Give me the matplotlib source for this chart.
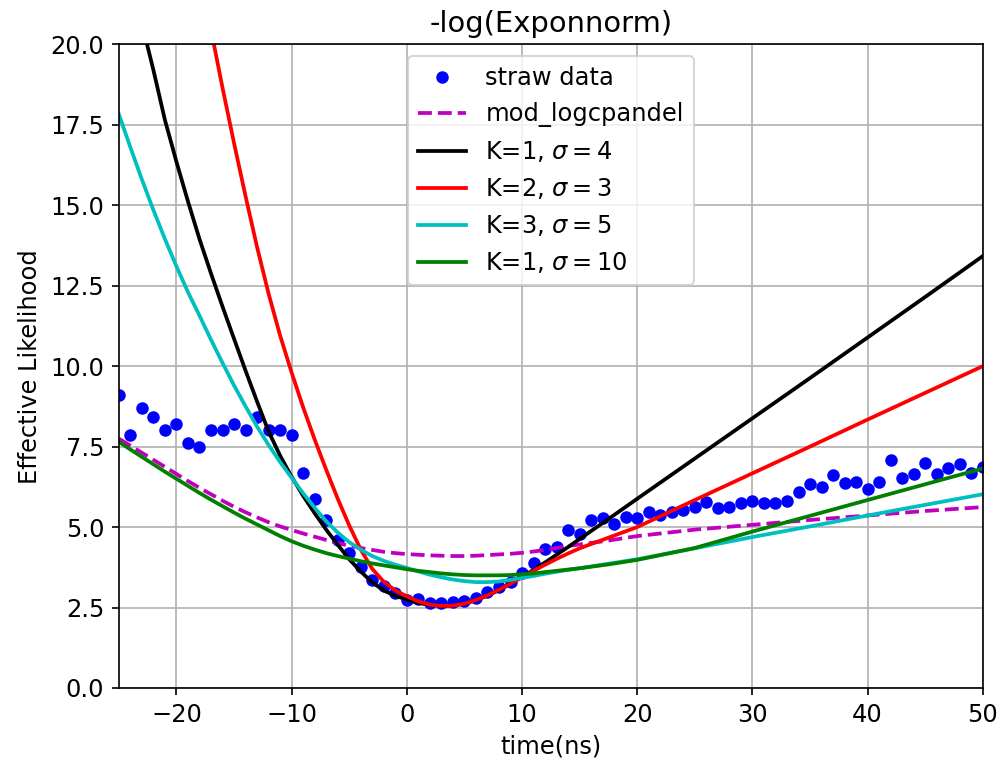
import numpy as np
import matplotlib
matplotlib.use('Agg')
import matplotlib.pyplot as plt

plt.rcParams['font.size'] = 11.6

# straw data, one point per ns
t_data = np.arange(-25, 51)
y_data = [9.10, 7.86, 8.69, 8.41, 8.01, 8.20, 7.60, 7.49, 8.01, 8.01,
          8.20, 8.01, 8.43, 8.01, 8.01, 7.86, 6.67, 5.86, 5.22, 4.60,
          4.20, 3.75, 3.35, 3.17, 2.96, 2.74, 2.75, 2.65, 2.63, 2.68,
          2.71, 2.79, 2.99, 3.15, 3.30, 3.58, 3.89, 4.33, 4.39, 4.91,
          4.78, 5.22, 5.27, 5.09, 5.32, 5.27, 5.48, 5.39, 5.48, 5.53,
          5.63, 5.77, 5.58, 5.61, 5.74, 5.82, 5.76, 5.76, 5.82, 6.08,
          6.33, 6.23, 6.61, 6.36, 6.41, 6.18, 6.41, 7.08, 6.51, 6.65,
          7.00, 6.65, 6.85, 6.96, 6.67, 6.87]

# curves (-25..14 every ns, then coarser)
t_curve = list(range(-25, 15)) + [15, 17.5, 20, 25, 30, 35, 40, 45, 50]
y_mod = [7.75, 7.53, 7.31, 7.09, 6.87, 6.65, 6.43, 6.22, 6.02, 5.82,
         5.63, 5.46, 5.30, 5.15, 5.02, 4.91, 4.80, 4.70, 4.60, 4.50,
         4.42, 4.35, 4.29, 4.23, 4.19, 4.16, 4.14, 4.12, 4.11, 4.10,
         4.10, 4.11, 4.13, 4.15, 4.17, 4.20, 4.24, 4.29, 4.35, 4.41,
         4.46, 4.58, 4.72, 4.92, 5.07, 5.22, 5.36, 5.50, 5.62]
y_k1s4 = [23.9, 22.2, 20.65, 19.2, 17.65, 16.35, 15.12, 13.95, 12.88, 11.85,
          10.85, 9.86, 8.90, 7.97, 7.22, 6.56, 5.97, 5.43, 4.92, 4.45,
          4.00, 3.62, 3.28, 3.03, 2.86, 2.75, 2.64, 2.58, 2.55, 2.56,
          2.62, 2.73, 2.87, 3.04, 3.24, 3.45, 3.67, 3.90, 4.14, 4.38,
          4.63, 5.25, 5.88, 7.13, 8.38, 9.63, 10.89, 12.15, 13.42]
y_k2s3 = [38.6, 36.0, 33.4, 31.0, 28.7, 26.5, 24.4, 22.4, 20.45, 18.65,
          16.93, 15.28, 13.70, 12.25, 10.95, 9.80, 8.72, 7.72, 6.78, 5.88,
          5.05, 4.30, 3.70, 3.30, 3.03, 2.85, 2.69, 2.59, 2.55, 2.56,
          2.62, 2.73, 2.88, 3.05, 3.24, 3.44, 3.64, 3.83, 4.01, 4.18,
          4.34, 4.67, 5.00, 5.84, 6.67, 7.50, 8.34, 9.17, 10.00]
y_k3s5 = [17.83, 16.8, 15.8, 14.85, 13.95, 13.1, 12.3, 11.57, 10.82, 10.1,
          9.40, 8.75, 8.12, 7.55, 7.02, 6.53, 6.05, 5.60, 5.18, 4.83,
          4.53, 4.30, 4.10, 3.95, 3.83, 3.73, 3.62, 3.52, 3.44, 3.37,
          3.32, 3.29, 3.29, 3.31, 3.36, 3.42, 3.48, 3.55, 3.61, 3.67,
          3.72, 3.86, 4.00, 4.34, 4.69, 5.02, 5.36, 5.69, 6.02]
y_k1s10 = [7.65, 7.41, 7.18, 6.95, 6.72, 6.50, 6.28, 6.06, 5.85, 5.65,
           5.45, 5.26, 5.08, 4.90, 4.72, 4.56, 4.42, 4.30, 4.19, 4.10,
           4.02, 3.94, 3.87, 3.81, 3.75, 3.69, 3.64, 3.60, 3.56, 3.53,
           3.51, 3.50, 3.50, 3.50, 3.51, 3.53, 3.56, 3.60, 3.64, 3.68,
           3.72, 3.84, 3.98, 4.35, 4.86, 5.35, 5.84, 6.33, 6.82]

fig = plt.figure(figsize=(1007/150, 763/150), dpi=150)
ax = fig.add_axes([0.118, 0.0983, 0.858, 0.8437])
lw = 1.8
ax.plot(t_data, y_data, 'bo', ms=5, label='straw data')
ax.plot(t_curve, y_mod, 'm--', lw=lw, label='mod_logcpandel')
ax.plot(t_curve, y_k1s4, 'k-', lw=lw, label=r'K=1, $\sigma=4$')
ax.plot(t_curve, y_k2s3, 'r-', lw=lw, label=r'K=2, $\sigma=3$')
ax.plot(t_curve, y_k3s5, 'c-', lw=lw, label=r'K=3, $\sigma=5$')
ax.plot(t_curve, y_k1s10, 'g-', lw=lw, label=r'K=1, $\sigma=10$')

ax.set_xlim(-25, 50)
ax.set_ylim(0, 20)
ax.set_title('-log(Exponnorm)')
ax.set_xlabel('time(ns)')
ax.set_ylabel('Effective Likelihood')
ax.grid(True)
ax.legend(loc='upper center')
plt.savefig('out.png', dpi=150)
